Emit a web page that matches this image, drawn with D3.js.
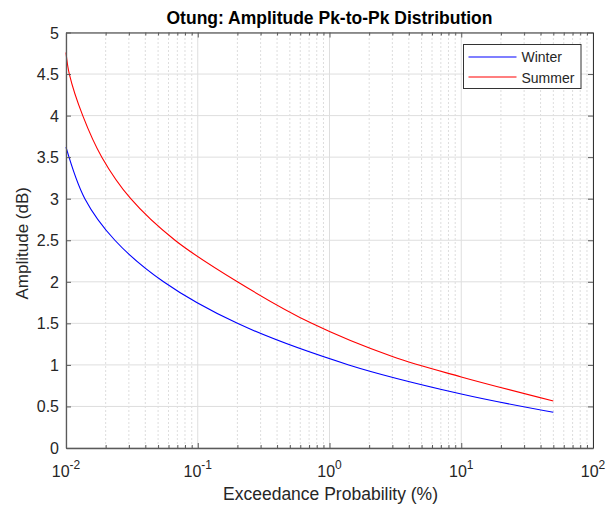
<!DOCTYPE html>
<html>
<head>
<meta charset="utf-8">
<script src="https://cdn.jsdelivr.net/npm/d3@7"></script>
<style>
body {margin:0;background:#fff;}
svg {display:block;font-family:"Liberation Sans", Arial, sans-serif;}
.tick-label {font-size:16px;fill:#262626;}
</style>
</head>
<body>
<svg id="chart" width="609" height="511"></svg>
<script>
// exceedance probability (%) and amplitude (dB)
var winterProb = [0.01, 0.0139, 0.0235, 0.055, 0.2, 1.4, 10, 50];
var winter = [3.62, 3.0, 2.5, 2.0, 1.5, 1.0, 0.65, 0.43];
var summerProb = [0.01, 0.0106, 0.0134, 0.0187, 0.031, 0.0672, 0.2, 0.733, 3, 10, 50];
var summer = [4.76, 4.5, 4.0, 3.5, 3.0, 2.5, 2.0, 1.5, 1.10, 0.855, 0.565];
var yTicks = [0, 0.5, 1, 1.5, 2, 2.5, 3, 3.5, 4, 4.5, 5];
var xDecades = [-2, -1, 0, 1, 2];
var seriesNames = ["Winter", "Summer"];
var seriesColors = ["#0000ff", "#ff0000"];

var margin = {left:66, right:16, top:32.5, bottom:63};
var W = 609, H = 511;
var svg = d3.select("#chart");

var x = d3.scaleLog().domain([0.01, 100]).range([margin.left, W - margin.right]);
var y = d3.scaleLinear().domain([0, 5]).range([H - margin.bottom, margin.top]);

// minor ticks 2..9 per decade
var minor = [];
xDecades.slice(0, -1).forEach(function(e) {
  for (var k = 2; k <= 9; k++) minor.push(k * Math.pow(10, e));
});
var major = xDecades.map(function(e) { return Math.pow(10, e); });

var grid = svg.append("g");
grid.selectAll(".minor").data(minor).enter().append("line")
  .attr("x1", function(d) { return x(d); }).attr("x2", function(d) { return x(d); })
  .attr("y1", y(0)).attr("y2", y(5))
  .attr("stroke", "#d4d4d4").attr("stroke-width", 0.8).attr("stroke-dasharray", "2,2");
grid.selectAll(".majx").data(major).enter().append("line")
  .attr("x1", function(d) { return x(d); }).attr("x2", function(d) { return x(d); })
  .attr("y1", y(0)).attr("y2", y(5))
  .attr("stroke", "#dedede").attr("stroke-width", 1);
grid.selectAll(".majy").data(yTicks).enter().append("line")
  .attr("x1", x(0.01)).attr("x2", x(100))
  .attr("y1", function(d) { return y(d); }).attr("y2", function(d) { return y(d); })
  .attr("stroke", "#dedede").attr("stroke-width", 1);

// curves
var line = d3.line()
  .x(function(d) { return x(d[0]); })
  .y(function(d) { return y(d[1]); })
  .curve(d3.curveCatmullRom.alpha(0.5));
[[winterProb, winter], [summerProb, summer]].forEach(function(s, i) {
  svg.append("path")
    .datum(s[0].map(function(p, j) { return [p, s[1][j]]; }))
    .attr("d", line)
    .style("fill", "none")
    .style("stroke", seriesColors[i])
    .style("stroke-width", 1.1);
});

// axes (box with inward ticks)
var axCol = "#5a5a5a";
svg.append("g").attr("transform", "translate(0," + y(0) + ")")
  .call(d3.axisBottom(x).tickValues(major).tickSizeInner(-5).tickSizeOuter(0).tickFormat(""))
  .call(function(g) { g.select(".domain").attr("stroke", axCol).attr("stroke-width", 1.3); g.selectAll("line").attr("stroke", axCol); });
svg.append("g").attr("transform", "translate(0," + y(0) + ")")
  .call(d3.axisBottom(x).tickValues(minor).tickSizeInner(-3).tickSizeOuter(0).tickFormat(""))
  .call(function(g) { g.select(".domain").remove(); g.selectAll("line").attr("stroke", axCol); });
svg.append("g").attr("transform", "translate(0," + y(5) + ")")
  .call(d3.axisTop(x).tickValues(major).tickSizeInner(-5).tickSizeOuter(0).tickFormat(""))
  .call(function(g) { g.select(".domain").attr("stroke", "#333").attr("stroke-width", 1); g.selectAll("line").attr("stroke", axCol); });
svg.append("g").attr("transform", "translate(0," + y(5) + ")")
  .call(d3.axisTop(x).tickValues(minor).tickSizeInner(-3).tickSizeOuter(0).tickFormat(""))
  .call(function(g) { g.select(".domain").remove(); g.selectAll("line").attr("stroke", axCol); });
svg.append("g").attr("transform", "translate(" + x(0.01) + ",0)")
  .call(d3.axisLeft(y).tickValues(yTicks).tickSizeInner(-5).tickSizeOuter(0).tickFormat(""))
  .call(function(g) { g.select(".domain").attr("stroke", axCol).attr("stroke-width", 1.3); g.selectAll("line").attr("stroke", axCol); });
svg.append("g").attr("transform", "translate(" + x(100) + ",0)")
  .call(d3.axisRight(y).tickValues(yTicks).tickSizeInner(-5).tickSizeOuter(0).tickFormat(""))
  .call(function(g) { g.select(".domain").attr("stroke", "#333").attr("stroke-width", 1); g.selectAll("line").attr("stroke", axCol); });

// tick labels
svg.selectAll(".ylab").data(yTicks).enter().append("text")
  .attr("class", "tick-label")
  .attr("x", x(0.01) - 7).attr("y", function(d) { return y(d) + 6; })
  .attr("text-anchor", "end")
  .text(function(d) { return d; });
var xl = svg.selectAll(".xlab").data(xDecades).enter().append("text")
  .attr("class", "tick-label")
  .attr("x", function(d) { return x(Math.pow(10, d)); }).attr("y", y(0) + 29)
  .attr("text-anchor", "middle");
xl.append("tspan").text("10");
xl.append("tspan").attr("dy", -8).style("font-size", "12px").text(function(d) { return d < 0 ? "-" + (-d) : d; });

// titles
svg.append("text").attr("x", (x(0.01) + x(100)) / 2).attr("y", 24)
  .attr("text-anchor", "middle").style("font-size", "17.5px").style("font-weight", "bold").attr("fill", "#000")
  .text("Otung: Amplitude Pk-to-Pk Distribution");
svg.append("text").attr("x", (x(0.01) + x(100)) / 2 + 1).attr("y", 500)
  .attr("text-anchor", "middle").style("font-size", "17.5px").attr("fill", "#262626")
  .text("Exceedance Probability (%)");
svg.append("text").attr("transform", "translate(28," + ((y(0) + y(5)) / 2 + 3) + ") rotate(-90)")
  .attr("text-anchor", "middle").style("font-size", "17px").attr("fill", "#262626")
  .text("Amplitude (dB)");

// legend
var lg = svg.append("g").attr("transform", "translate(463.5,44.5)");
lg.append("rect").attr("width", 117.5).attr("height", 44).style("fill", "#fff").style("stroke", "#333").style("stroke-width", 1);
seriesNames.forEach(function(n, i) {
  lg.append("line").attr("x1", 5).attr("x2", 53).attr("y1", 12.5 + i * 20).attr("y2", 12.5 + i * 20)
    .style("stroke", seriesColors[i]).style("stroke-width", 1.2);
  lg.append("text").attr("x", 58).attr("y", 17.5 + i * 20.5).style("font-size", "14px").style("fill", "#262626").text(n);
});
</script>
</body>
</html>
